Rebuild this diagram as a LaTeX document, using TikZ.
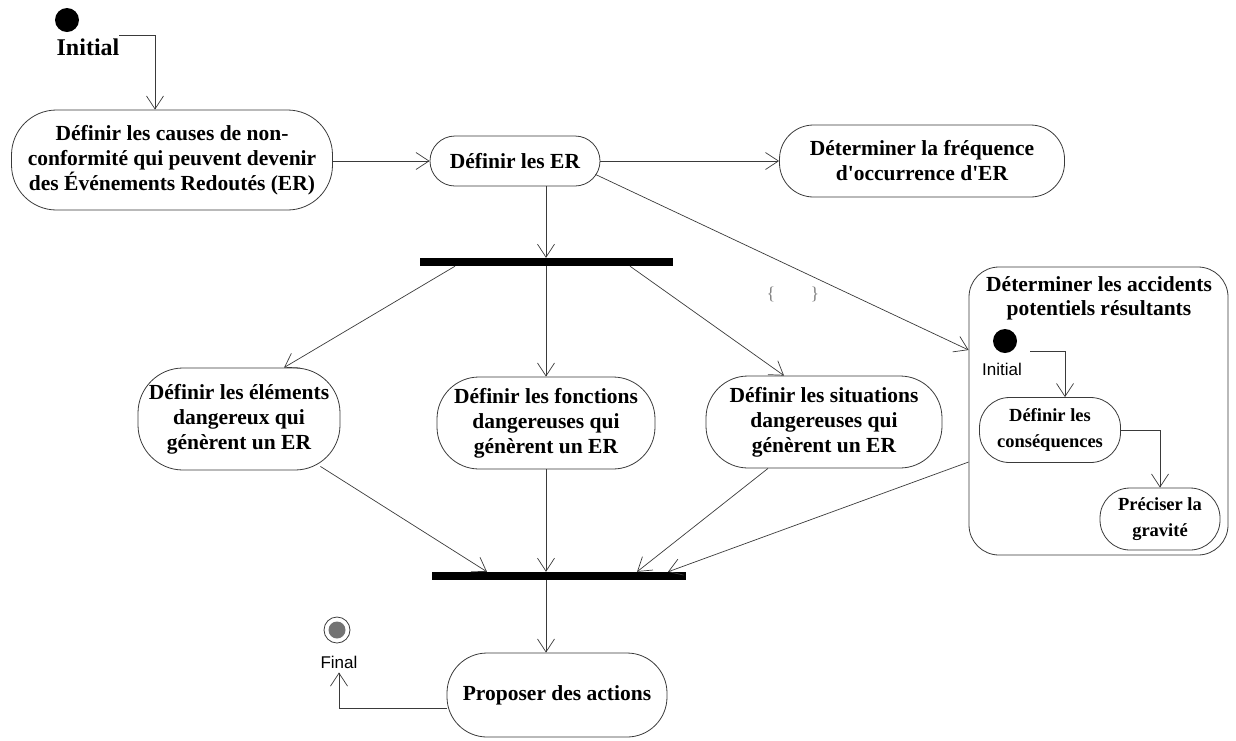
\documentclass[tikz,border=0pt]{standalone}
\usepackage{fontspec}
\setmainfont{Liberation Serif}[Ligatures=TeXOff]
\newfontfamily\labelsans{Liberation Sans}
\usetikzlibrary{arrows.meta}
\definecolor{linegray}{HTML}{3A3A3A}
\begin{document}
\begin{tikzpicture}[x=1pt,y=-1pt,
  flow/.style={draw=linegray, line width=0.7pt,
    -{Straight Barb[length=13pt,width=17pt,line width=0.7pt]}},
  action/.style={draw=linegray, line width=0.8pt, align=center,
    font=\fontsize{21.5}{25}\selectfont\bfseries, inner sep=0pt},
  inneraction/.style={action, font=\fontsize{18.5}{26}\selectfont\bfseries},
  bar/.style={fill=black, draw=none, inner sep=0pt, minimum height=8pt},
  startdot/.style={circle, fill=black, inner sep=0pt, minimum size=24pt},
  sanslabel/.style={font=\labelsans\fontsize{17}{20}\selectfont, inner sep=0pt},
  seriflabel/.style={font=\fontsize{24}{24}\selectfont\bfseries, inner sep=0pt}
]
\useasboundingbox (0,0) rectangle (1236,740);

% start of the main flow
\node[startdot] (init) at (67,20) {};
\node[seriflabel] (initlabel) at (88,47) {Initial};
\coordinate (s0) at (119,35);

% main actions
\node[action, rounded corners=45pt, minimum width=321pt, minimum height=100pt]
  (causes) at (172,160) {Définir les causes de non-\\conformité qui peuvent devenir\\des Événements Redoutés (ER)};
\node[action, rounded corners=25pt, minimum width=170pt, minimum height=50pt]
  (er) at (515,161) {Définir les ER};
\node[action, rounded corners=34pt, minimum width=285pt, minimum height=72pt]
  (freq) at (922,161) {Déterminer la fréquence\\d'occurrence d'ER};

% fork and the three parallel actions
\node[bar, minimum width=253pt] (fork) at (546,262) {};
\node[action, rounded corners=45pt, minimum width=202pt, minimum height=102pt]
  (elem) at (239,419) {Définir les éléments\\dangereux qui\\génèrent un ER};
\node[action, rounded corners=42pt, minimum width=218pt, minimum height=92pt]
  (fonc) at (546,423) {Définir les fonctions\\dangereuses qui\\génèrent un ER};
\node[action, rounded corners=42pt, minimum width=236pt, minimum height=92pt]
  (situ) at (824,422) {Définir les situations\\dangereuses qui\\génèrent un ER};

% stray braces
\node[font=\fontsize{18}{18}\selectfont, text=gray, inner sep=0pt] (bl) at (771,294) {\{};
\node[font=\fontsize{18}{18}\selectfont, text=gray, inner sep=0pt] (br) at (815,294) {\}};

% composite activity
\node[draw=linegray, line width=0.8pt, rounded corners=30pt, minimum width=259pt,
  minimum height=288pt, inner sep=0pt] (acc) at (1098.5,411) {};
\node[align=center, inner sep=0pt, font=\fontsize{21.5}{24}\selectfont\bfseries] (acctitle) at (1099,298)
  {Déterminer les accidents\\potentiels résultants};
\node[startdot] (init2) at (1005,341) {};
\node[sanslabel] (init2label) at (1002,369) {Initial};
\coordinate (s1) at (1030,351);
\node[inneraction, rounded corners=30pt, minimum width=141pt, minimum height=65pt]
  (cons) at (1050,430) {Définir les\\conséquences};
\node[inneraction, rounded corners=30pt, minimum width=120pt, minimum height=62pt]
  (grav) at (1160,519) {Préciser la\\gravité};

% join, last action and final state
\node[bar, minimum width=254pt] (join) at (559,576) {};
\node[action, rounded corners=40pt, minimum width=220pt, minimum height=84pt]
  (prop) at (557,695) {Proposer des actions};
\node[circle, draw=linegray, line width=0.8pt, minimum size=26pt, inner sep=0pt] (final) at (337,630) {};
\node[circle, fill=gray!90!black, minimum size=17pt, inner sep=0pt] (finalcore) at (337,630) {};
\node[sanslabel] (finallabel) at (339,662) {Final};

% transitions
\draw[flow] (s0) -| ([xshift=-17pt]causes.north);
\draw[flow] (causes.east |- er.west) -- (er.west);
\draw[flow] (er.east) -- (freq.west);
\draw[flow] (er.south -| fork) -- (fork.north);
\draw[flow] ([xshift=-5pt,yshift=12pt]er.south east) -- ([yshift=61pt]acc.west);

\draw[flow] ([xshift=-91pt]fork.south) -- ([xshift=45pt]elem.north);
\draw[flow] (fork.south) -- (fonc.north);
\draw[flow] ([xshift=84pt]fork.south) -- ([xshift=-40pt]situ.north);

\draw[flow] (s1) -| ([xshift=15pt]cons.north);
\draw[flow] (cons.east) -| (grav.north);

\draw[flow] ([xshift=-20pt,yshift=4pt]elem.south east) -- ([xshift=-72pt]join.north);
\draw[flow] (fonc.south) -- (fonc.south |- join.north);
\draw[flow] ([xshift=-56pt]situ.south) -- ([xshift=78pt]join.north);
\draw[flow] ([yshift=-51pt]acc.west) -- ([xshift=109pt]join.north);

\draw[flow] (join.south -| fonc.south) -- (fonc.south |- prop.north);
\draw[flow, shorten >=4pt] ([yshift=-13pt]prop.west) -| (finallabel.south);
\end{tikzpicture}
\end{document}
